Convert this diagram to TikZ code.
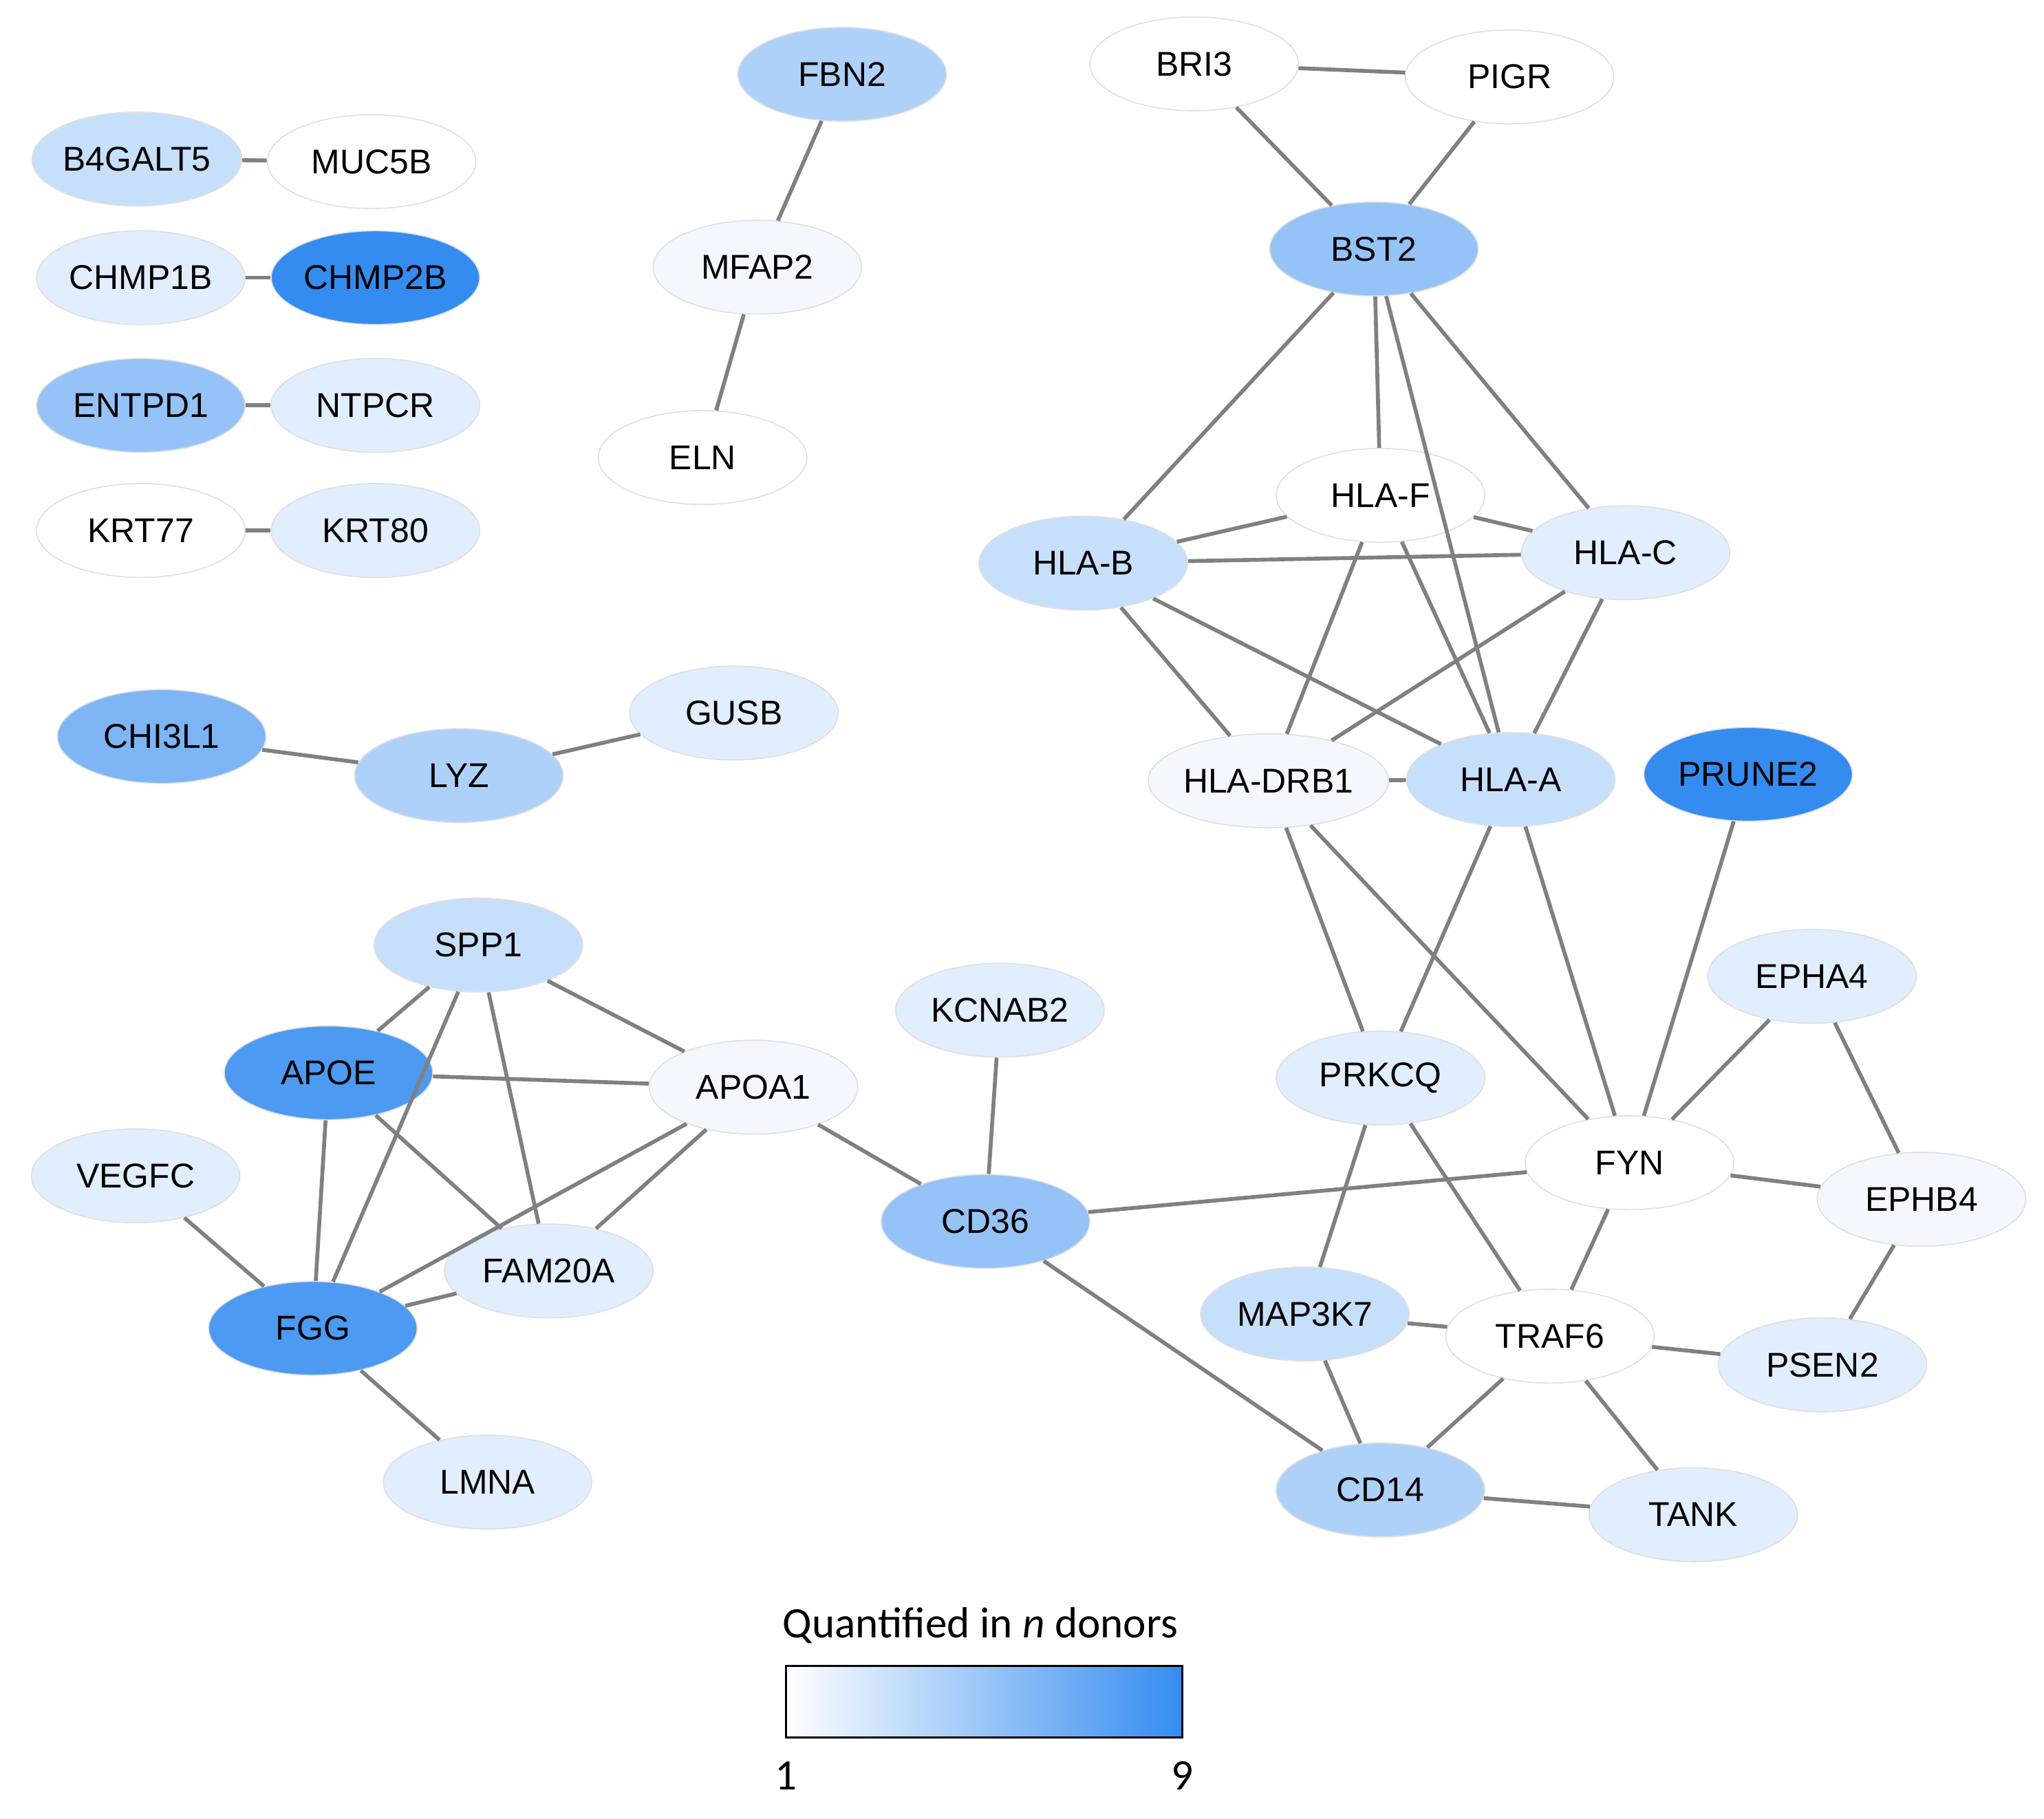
\documentclass[tikz,border=0pt]{standalone}
\usepackage{fontspec}
\usetikzlibrary{shapes.geometric}
\setmainfont{Liberation Sans}
\newfontfamily\calfnt{Carlito}
\definecolor{bl}{RGB}{52,140,240}
\colorlet{c1}{bl!6!white}
\colorlet{c2}{bl!15!white}
\colorlet{c3}{bl!28!white}
\colorlet{c4}{bl!40!white}
\colorlet{c5}{bl!52!white}
\colorlet{c6}{bl!64!white}
\colorlet{c8}{bl!88!white}
\colorlet{c9}{bl}
\begin{document}
\begin{tikzpicture}[x=0.02cm,y=-0.02cm,
 g/.style={ellipse,draw=black!12,line width=0.5pt,minimum width=3.2cm,minimum height=1.44cm,inner sep=0pt,font=\fontsize{15}{15}\selectfont},
 e/.style={draw=black!50,line width=1.7pt}]
\useasboundingbox (0,0) rectangle (1568,1395);
\node[g,fill=c3] (B4GALT5) at (105,122) {B4GALT5};
\node[g,fill=white] (MUC5B) at (285,124) {MUC5B};
\node[g,fill=c2] (CHMP1B) at (108,213) {CHMP1B};
\node[g,fill=c9] (CHMP2B) at (288,213) {CHMP2B};
\node[g,fill=c5] (ENTPD1) at (108,311) {ENTPD1};
\node[g,fill=c2] (NTPCR) at (288,311) {NTPCR};
\node[g,fill=white] (KRT77) at (108,407) {KRT77};
\node[g,fill=c2] (KRT80) at (288,407) {KRT80};
\node[g,fill=c4] (FBN2) at (646,57) {FBN2};
\node[g,fill=c1] (MFAP2) at (581,205) {MFAP2};
\node[g,fill=white] (ELN) at (539,351) {ELN};
\node[g,fill=white] (BRI3) at (916,49) {BRI3};
\node[g,fill=white] (PIGR) at (1158,59) {PIGR};
\node[g,fill=c5] (BST2) at (1054,191) {BST2};
\node[g,fill=white] (HLAF) at (1059,380) {HLA-F};
\node[g,fill=c3] (HLAB) at (831,432) {HLA-B};
\node[g,fill=c2] (HLAC) at (1247,424) {HLA-C};
\node[g,fill=c1] (HLADRB1) at (973,599) {HLA-DRB1};
\node[g,fill=c3] (HLAA) at (1159,598) {HLA-A};
\node[g,fill=c9] (PRUNE2) at (1341,594) {PRUNE2};
\node[g,fill=c6] (CHI3L1) at (124,565) {CHI3L1};
\node[g,fill=c4] (LYZ) at (352,595) {LYZ};
\node[g,fill=c2] (GUSB) at (563,547) {GUSB};
\node[g,fill=c3] (SPP1) at (367,725) {SPP1};
\node[g,fill=c8] (APOE) at (252,823) {APOE};
\node[g,fill=c1] (APOA1) at (578,834) {APOA1};
\node[g,fill=c2] (VEGFC) at (104,902) {VEGFC};
\node[g,fill=c2] (FAM20A) at (421,975) {FAM20A};
\node[g,fill=c8] (FGG) at (240,1019) {FGG};
\node[g,fill=c2] (LMNA) at (374,1137) {LMNA};
\node[g,fill=c2] (KCNAB2) at (767,775) {KCNAB2};
\node[g,fill=c5] (CD36) at (756,937) {CD36};
\node[g,fill=c2] (EPHA4) at (1390,749) {EPHA4};
\node[g,fill=c2] (PRKCQ) at (1059,827) {PRKCQ};
\node[g,fill=white] (FYN) at (1250,892) {FYN};
\node[g,fill=c1] (EPHB4) at (1474,920) {EPHB4};
\node[g,fill=c3] (MAP3K7) at (1001,1008) {MAP3K7};
\node[g,fill=white] (TRAF6) at (1189,1025) {TRAF6};
\node[g,fill=c2] (PSEN2) at (1398,1047) {PSEN2};
\node[g,fill=c4] (CD14) at (1059,1143) {CD14};
\node[g,fill=c2] (TANK) at (1299,1162) {TANK};
\foreach \a/\b in {B4GALT5/MUC5B,CHMP1B/CHMP2B,ENTPD1/NTPCR,KRT77/KRT80,FBN2/MFAP2,MFAP2/ELN,BRI3/PIGR,BRI3/BST2,PIGR/BST2,BST2/HLAB,BST2/HLAF,BST2/HLAA,BST2/HLAC,HLAB/HLAF,HLAB/HLAC,HLAF/HLAC,HLAB/HLADRB1,HLAB/HLAA,HLAF/HLADRB1,HLAF/HLAA,HLAC/HLADRB1,HLAC/HLAA,HLADRB1/HLAA,HLADRB1/PRKCQ,HLADRB1/FYN,HLAA/PRKCQ,HLAA/FYN,PRUNE2/FYN,EPHA4/FYN,EPHA4/EPHB4,FYN/EPHB4,EPHB4/PSEN2,FYN/CD36,FYN/TRAF6,PRKCQ/MAP3K7,PRKCQ/TRAF6,MAP3K7/TRAF6,MAP3K7/CD14,TRAF6/CD14,TRAF6/PSEN2,TRAF6/TANK,CD14/TANK,CD36/CD14,CD36/APOA1,CD36/KCNAB2,CHI3L1/LYZ,LYZ/GUSB,SPP1/APOE,SPP1/FGG,SPP1/FAM20A,SPP1/APOA1,APOE/APOA1,APOE/FGG,APOE/FAM20A,APOA1/FAM20A,APOA1/FGG,FGG/FAM20A,VEGFC/FGG,FGG/LMNA}
 {\draw[e] (\a) -- (\b);}
\node[font=\calfnt\fontsize{19}{19}\selectfont] (title) at (752,1247) {Quantified in \textit{n} donors};
\shade[left color=white,right color=bl] (603,1278) rectangle (907,1333);
\node[draw=black,line width=1pt,minimum width=6.08cm,minimum height=1.1cm,inner sep=0pt] (bar) at (755,1305.5) {};
\node[font=\calfnt\fontsize{19}{19}\selectfont] (one) at (603,1362) {1};
\node[font=\calfnt\fontsize{19}{19}\selectfont] (nine) at (907,1362) {9};
\end{tikzpicture}
\end{document}
